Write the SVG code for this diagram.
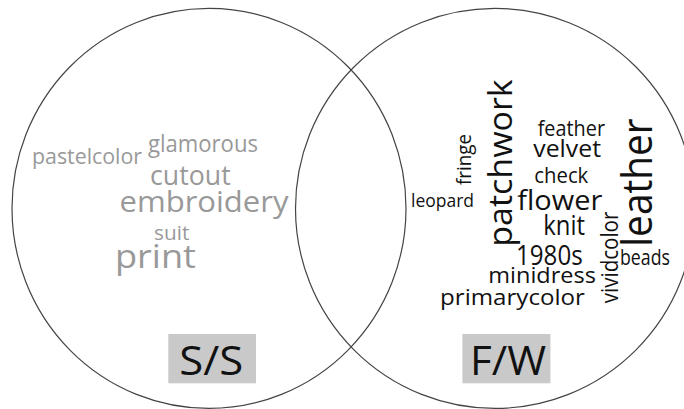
<svg xmlns="http://www.w3.org/2000/svg" width="684" height="409" viewBox="0 0 684 409">
<style>
.c{fill:none;stroke:#444;stroke-width:1.2}
text{font-family:"Open Sans","Noto Sans",sans-serif}
.g{fill:#999}
.k{fill:#111}
.box{fill:#c9c9c9}
</style>
<rect width="684" height="409" fill="#fff"/>
<g id="sets">
<ellipse id="ss-circle" class="c" cx="209" cy="208.4" rx="197" ry="200"/>
<ellipse id="fw-circle" class="c" cx="495" cy="208.4" rx="199.5" ry="200"/>
</g>
<g id="ss-words" class="g">
<text x="32" y="164" font-size="22.5" textLength="110" lengthAdjust="spacingAndGlyphs">pastelcolor</text>
<text x="148" y="151.7" font-size="23" textLength="110" lengthAdjust="spacingAndGlyphs">glamorous</text>
<text x="150" y="185" font-size="27" textLength="80.7" lengthAdjust="spacingAndGlyphs">cutout</text>
<text x="119.5" y="211.7" font-size="28.5" textLength="169" lengthAdjust="spacingAndGlyphs">embroidery</text>
<text x="154" y="240" font-size="20" textLength="35.3" lengthAdjust="spacingAndGlyphs">suit</text>
<text x="115" y="268.3" font-size="33" textLength="81" lengthAdjust="spacingAndGlyphs">print</text>
</g>
<g id="fw-words" class="k">
<text transform="translate(511.7,246.7) rotate(-90)" font-size="33.5" textLength="167.4" lengthAdjust="spacingAndGlyphs">patchwork</text>
<text transform="translate(470.7,185) rotate(-90)" font-size="19.5" textLength="51" lengthAdjust="spacingAndGlyphs">fringe</text>
<text transform="translate(651.7,246.7) rotate(-90)" font-size="41.5" textLength="128.4" lengthAdjust="spacingAndGlyphs">leather</text>
<text transform="translate(618.3,303.3) rotate(-90)" font-size="23" textLength="91.7" lengthAdjust="spacingAndGlyphs">vividcolor</text>
<text x="411" y="207.3" font-size="18.5" textLength="63" lengthAdjust="spacingAndGlyphs">leopard</text>
<text x="537.7" y="136" font-size="21" textLength="67.3" lengthAdjust="spacingAndGlyphs">feather</text>
<text x="533.3" y="156.7" font-size="24" textLength="67.7" lengthAdjust="spacingAndGlyphs">velvet</text>
<text x="534.3" y="183.3" font-size="21.5" textLength="54" lengthAdjust="spacingAndGlyphs">check</text>
<text x="517.3" y="210" font-size="27.5" textLength="85" lengthAdjust="spacingAndGlyphs">flower</text>
<text x="543.3" y="235" font-size="27" textLength="41.7" lengthAdjust="spacingAndGlyphs">knit</text>
<text x="516" y="265" font-size="26.5" textLength="66.7" lengthAdjust="spacingAndGlyphs">1980s</text>
<text x="620" y="265" font-size="21" textLength="50" lengthAdjust="spacingAndGlyphs">beads</text>
<text x="488.3" y="283.3" font-size="22" textLength="107.7" lengthAdjust="spacingAndGlyphs">minidress</text>
<text x="440" y="305" font-size="22" textLength="145" lengthAdjust="spacingAndGlyphs">primarycolor</text>
</g>
<g id="ss-label">
<rect class="box" x="168.3" y="334" width="87.7" height="49.3"/>
<text class="k" x="179.3" y="375" font-size="40" textLength="64" lengthAdjust="spacingAndGlyphs">S/S</text>
</g>
<g id="fw-label">
<rect class="box" x="462.4" y="334" width="88" height="49.3"/>
<text class="k" x="470" y="375" font-size="40" textLength="76" lengthAdjust="spacingAndGlyphs">F/W</text>
</g>
</svg>
